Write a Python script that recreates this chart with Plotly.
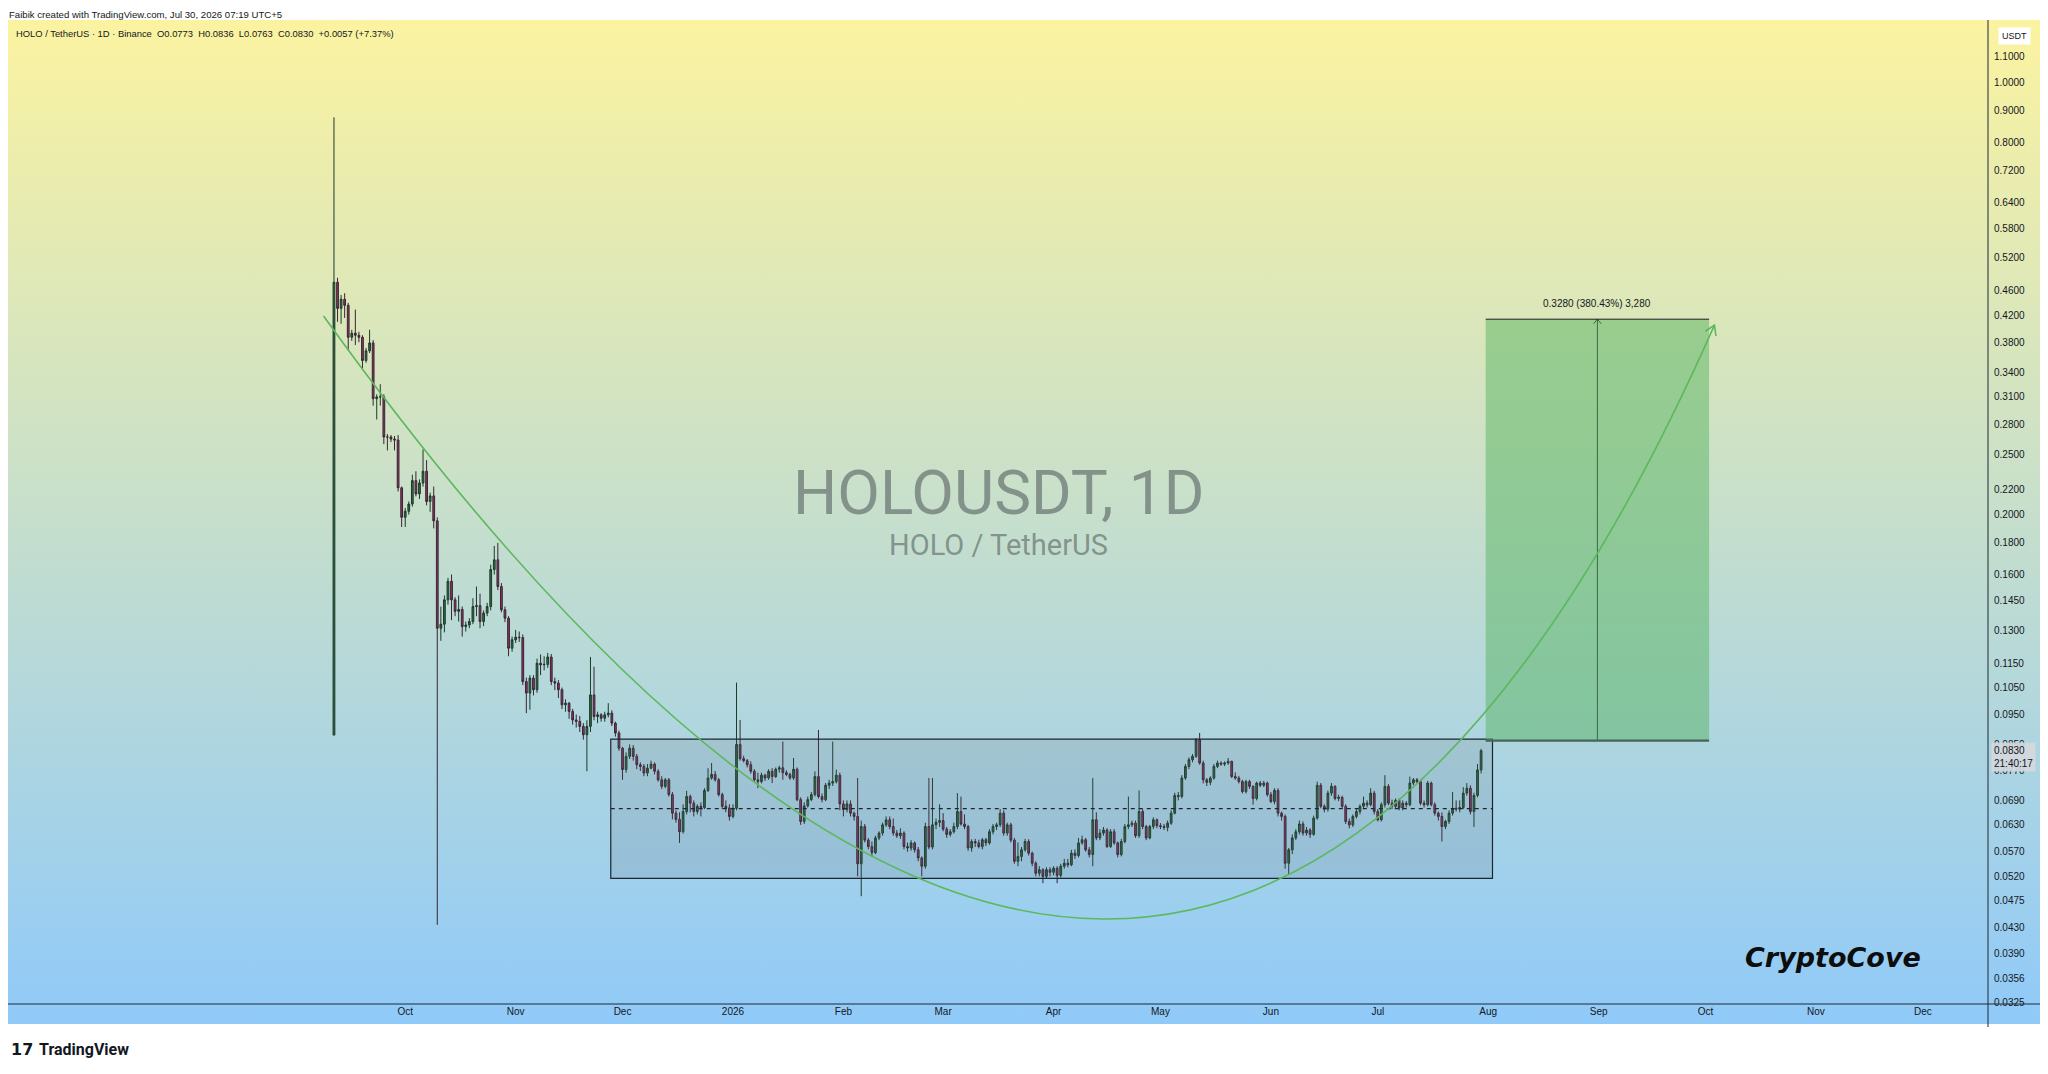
import math
import base64
import pandas as pd
import plotly.graph_objects as go

# ---------------- data ----------------
first_day = "2025-09-11"
opens = [
0.0880,0.4750,0.4310,0.4460,0.4360,0.3870,0.3930,0.3900,0.3870,0.3550,
0.3680,0.3790,0.3080,0.3100,0.3100,0.2670,0.2670,0.2650,0.2640,0.2210,
0.1980,0.2025,0.2080,0.2270,0.2160,0.2250,0.2350,0.2100,0.2144,0.1954,
0.1310,0.1330,0.1456,0.1560,0.1456,0.1395,0.1405,0.1318,0.1326,0.1343,
0.1420,0.1425,0.1343,0.1386,0.1420,0.1630,0.1690,0.1530,0.1403,0.1360,
0.1216,0.1255,0.1267,0.1265,0.1074,0.1029,0.1088,0.1042,0.1150,0.1143,
0.1145,0.1177,0.1074,0.1068,0.1042,0.0985,0.0991,0.0961,0.0931,0.0926,
0.0909,0.0881,0.0909,0.1022,0.0943,0.0949,0.0937,0.0949,0.0955,0.0920,
0.0887,0.0838,0.0774,0.0813,0.0838,0.0813,0.0788,0.0783,0.0764,0.0778,
0.0790,0.0769,0.0745,0.0727,0.0745,0.0705,0.0658,0.0643,0.0614,0.0662,
0.0700,0.0683,0.0662,0.0675,0.0672,0.0716,0.0750,0.0760,0.0745,0.0705,
0.0675,0.0671,0.0650,0.0670,0.0850,0.0806,0.0800,0.0788,0.0769,0.0745,
0.0740,0.0758,0.0750,0.0769,0.0754,0.0775,0.0779,0.0765,0.0760,0.0750,
0.0775,0.0692,0.0638,0.0676,0.0692,0.0705,0.0754,0.0700,0.0692,0.0730,
0.0736,0.0740,0.0758,0.0681,0.0667,0.0681,0.0658,0.0650,0.0545,0.0626,
0.0595,0.0581,0.0568,0.0600,0.0611,0.0630,0.0642,0.0626,0.0611,0.0605,
0.0611,0.0581,0.0578,0.0589,0.0574,0.0557,0.0540,0.0626,0.0580,0.0630,
0.0636,0.0640,0.0620,0.0608,0.0614,0.0626,0.0662,0.0632,0.0626,0.0578,
0.0592,0.0589,0.0581,0.0596,0.0589,0.0614,0.0626,0.0630,0.0658,0.0611,
0.0630,0.0595,0.0550,0.0560,0.0574,0.0592,0.0567,0.0546,0.0526,0.0533,
0.0520,0.0533,0.0528,0.0536,0.0522,0.0540,0.0546,0.0543,0.0567,0.0562,
0.0589,0.0596,0.0574,0.0564,0.0642,0.0600,0.0611,0.0618,0.0581,0.0614,
0.0589,0.0564,0.0592,0.0626,0.0630,0.0634,0.0605,0.0662,0.0626,0.0600,
0.0626,0.0642,0.0628,0.0626,0.0624,0.0634,0.0658,0.0703,0.0700,0.0750,
0.0783,0.0803,0.0813,0.0865,0.0793,0.0745,0.0738,0.0750,0.0783,0.0793,
0.0790,0.0793,0.0798,0.0754,0.0750,0.0740,0.0713,0.0740,0.0727,0.0695,
0.0736,0.0730,0.0736,0.0705,0.0687,0.0716,0.0658,0.0650,0.0546,0.0574,
0.0600,0.0614,0.0632,0.0611,0.0618,0.0608,0.0646,0.0730,0.0675,0.0668,
0.0709,0.0727,0.0695,0.0698,0.0675,0.0638,0.0630,0.0650,0.0662,0.0675,
0.0683,0.0679,0.0709,0.0662,0.0642,0.0679,0.0727,0.0683,0.0675,0.0690,
0.0671,0.0683,0.0679,0.0736,0.0745,0.0740,0.0683,0.0679,0.0736,0.0679,
0.0658,0.0650,0.0626,0.0638,0.0658,0.0670,0.0668,0.0672,0.0709,0.0722,
0.0662,0.0703,0.0773]
highs = [
0.8780,0.4830,0.4530,0.4560,0.4400,0.3980,0.4290,0.3950,0.3900,0.3720,
0.3980,0.3830,0.3130,0.3250,0.3130,0.2700,0.2690,0.2680,0.2690,0.2220,
0.2050,0.2100,0.2320,0.2350,0.2280,0.2550,0.2450,0.2170,0.2220,0.1980,
0.1420,0.1480,0.1580,0.1600,0.1470,0.1480,0.1420,0.1343,0.1360,0.1465,
0.1530,0.1490,0.1400,0.1440,0.1660,0.1780,0.1800,0.1550,0.1420,0.1370,
0.1270,0.1302,0.1294,0.1280,0.1090,0.1100,0.1100,0.1170,0.1188,0.1180,
0.1195,0.1190,0.1090,0.1080,0.1050,0.1005,0.0995,0.0970,0.0950,0.0945,
0.0920,0.0930,0.1177,0.1135,0.0960,0.0955,0.0960,0.0991,0.0965,0.0925,
0.0895,0.0842,0.0825,0.0850,0.0848,0.0820,0.0795,0.0790,0.0790,0.0800,
0.0795,0.0775,0.0755,0.0750,0.0750,0.0712,0.0665,0.0660,0.0680,0.0715,
0.0705,0.0690,0.0680,0.0685,0.0722,0.0778,0.0793,0.0770,0.0750,0.0710,
0.0690,0.0680,0.0680,0.1070,0.0931,0.0815,0.0805,0.0798,0.0775,0.0765,
0.0765,0.0762,0.0775,0.0778,0.0780,0.0785,0.0859,0.0772,0.0765,0.0808,
0.0780,0.0698,0.0685,0.0700,0.0712,0.0769,0.0897,0.0708,0.0736,0.0745,
0.0859,0.0774,0.0765,0.0690,0.0690,0.0690,0.0662,0.0750,0.0640,0.0632,
0.0600,0.0592,0.0605,0.0615,0.0635,0.0650,0.0650,0.0645,0.0618,0.0622,
0.0615,0.0590,0.0595,0.0592,0.0580,0.0560,0.0635,0.0750,0.0750,0.0645,
0.0680,0.0658,0.0625,0.0620,0.0635,0.0709,0.0700,0.0655,0.0630,0.0597,
0.0598,0.0596,0.0600,0.0600,0.0620,0.0632,0.0635,0.0668,0.0665,0.0635,
0.0635,0.0600,0.0590,0.0580,0.0598,0.0597,0.0570,0.0550,0.0540,0.0536,
0.0538,0.0538,0.0540,0.0540,0.0545,0.0555,0.0555,0.0574,0.0575,0.0600,
0.0605,0.0600,0.0580,0.0750,0.0660,0.0620,0.0625,0.0622,0.0620,0.0620,
0.0592,0.0598,0.0632,0.0700,0.0640,0.0640,0.0716,0.0668,0.0630,0.0630,
0.0648,0.0645,0.0634,0.0632,0.0640,0.0665,0.0710,0.0712,0.0758,0.0790,
0.0810,0.0820,0.0870,0.0887,0.0800,0.0750,0.0755,0.0790,0.0800,0.0798,
0.0798,0.0808,0.0800,0.0766,0.0756,0.0745,0.0745,0.0745,0.0730,0.0740,
0.0742,0.0742,0.0740,0.0712,0.0722,0.0722,0.0662,0.0655,0.0578,0.0608,
0.0620,0.0640,0.0638,0.0625,0.0622,0.0652,0.0740,0.0736,0.0680,0.0716,
0.0736,0.0730,0.0705,0.0702,0.0680,0.0645,0.0655,0.0668,0.0680,0.0700,
0.0690,0.0722,0.0715,0.0668,0.0685,0.0758,0.0733,0.0692,0.0695,0.0695,
0.0690,0.0688,0.0754,0.0750,0.0750,0.0745,0.0690,0.0742,0.0740,0.0685,
0.0662,0.0660,0.0642,0.0665,0.0712,0.0690,0.0690,0.0725,0.0736,0.0730,
0.0710,0.0790,0.0836]
lows = [
0.0880,0.4100,0.4070,0.4160,0.3680,0.3820,0.3760,0.3800,0.3450,0.3520,
0.3650,0.3000,0.2850,0.3000,0.2600,0.2540,0.2620,0.2540,0.2180,0.1910,
0.1910,0.2000,0.2060,0.2140,0.2120,0.2220,0.2070,0.2020,0.1900,0.0434,
0.1250,0.1290,0.1430,0.1350,0.1370,0.1343,0.1270,0.1294,0.1310,0.1330,
0.1370,0.1310,0.1320,0.1370,0.1400,0.1600,0.1510,0.1390,0.1340,0.1180,
0.1200,0.1240,0.1245,0.1060,0.0955,0.0967,0.1020,0.1030,0.1100,0.1120,
0.1130,0.1060,0.1040,0.1010,0.0970,0.0960,0.0935,0.0915,0.0905,0.0890,
0.0865,0.0769,0.0890,0.0930,0.0920,0.0925,0.0925,0.0940,0.0910,0.0875,
0.0830,0.0745,0.0765,0.0805,0.0800,0.0775,0.0770,0.0755,0.0755,0.0775,
0.0760,0.0740,0.0720,0.0722,0.0700,0.0643,0.0635,0.0589,0.0610,0.0655,
0.0660,0.0650,0.0655,0.0650,0.0668,0.0712,0.0745,0.0740,0.0700,0.0668,
0.0660,0.0640,0.0645,0.0665,0.0800,0.0795,0.0780,0.0762,0.0740,0.0722,
0.0735,0.0742,0.0745,0.0736,0.0750,0.0765,0.0745,0.0755,0.0745,0.0745,
0.0688,0.0630,0.0632,0.0672,0.0688,0.0700,0.0695,0.0685,0.0688,0.0720,
0.0728,0.0735,0.0665,0.0650,0.0660,0.0650,0.0640,0.0520,0.0483,0.0590,
0.0575,0.0560,0.0565,0.0595,0.0605,0.0625,0.0620,0.0605,0.0600,0.0598,
0.0575,0.0570,0.0572,0.0568,0.0550,0.0520,0.0535,0.0575,0.0575,0.0620,
0.0625,0.0615,0.0600,0.0603,0.0610,0.0620,0.0628,0.0620,0.0572,0.0570,
0.0580,0.0577,0.0575,0.0582,0.0585,0.0608,0.0618,0.0625,0.0605,0.0605,
0.0590,0.0545,0.0540,0.0550,0.0570,0.0562,0.0540,0.0520,0.0520,0.0507,
0.0515,0.0520,0.0522,0.0507,0.0518,0.0535,0.0538,0.0540,0.0555,0.0558,
0.0585,0.0570,0.0558,0.0540,0.0595,0.0595,0.0605,0.0578,0.0578,0.0585,
0.0558,0.0560,0.0588,0.0620,0.0625,0.0600,0.0600,0.0620,0.0595,0.0597,
0.0620,0.0622,0.0620,0.0618,0.0615,0.0630,0.0655,0.0690,0.0695,0.0745,
0.0775,0.0795,0.0808,0.0788,0.0735,0.0728,0.0730,0.0745,0.0778,0.0785,
0.0784,0.0788,0.0750,0.0745,0.0735,0.0708,0.0708,0.0720,0.0679,0.0690,
0.0725,0.0725,0.0700,0.0683,0.0680,0.0650,0.0640,0.0535,0.0523,0.0565,
0.0595,0.0608,0.0605,0.0605,0.0600,0.0605,0.0642,0.0670,0.0660,0.0662,
0.0702,0.0690,0.0688,0.0670,0.0632,0.0622,0.0625,0.0645,0.0655,0.0670,
0.0672,0.0675,0.0655,0.0638,0.0638,0.0672,0.0678,0.0668,0.0670,0.0665,
0.0665,0.0672,0.0675,0.0730,0.0735,0.0678,0.0672,0.0675,0.0675,0.0652,
0.0640,0.0592,0.0620,0.0632,0.0652,0.0662,0.0660,0.0668,0.0702,0.0655,
0.0625,0.0698,0.0763]
closes = [
0.4750,0.4310,0.4460,0.4360,0.3870,0.3930,0.3900,0.3870,0.3550,0.3680,
0.3790,0.3080,0.3100,0.3100,0.2670,0.2670,0.2650,0.2640,0.2210,0.1980,
0.2025,0.2080,0.2270,0.2160,0.2250,0.2350,0.2100,0.2144,0.1954,0.1310,
0.1330,0.1456,0.1560,0.1456,0.1395,0.1405,0.1318,0.1326,0.1343,0.1420,
0.1425,0.1343,0.1386,0.1420,0.1630,0.1690,0.1530,0.1403,0.1360,0.1216,
0.1255,0.1267,0.1265,0.1074,0.1029,0.1088,0.1042,0.1150,0.1143,0.1145,
0.1177,0.1074,0.1068,0.1042,0.0985,0.0991,0.0961,0.0931,0.0926,0.0909,
0.0881,0.0909,0.1022,0.0943,0.0949,0.0937,0.0949,0.0955,0.0920,0.0887,
0.0838,0.0774,0.0813,0.0838,0.0813,0.0788,0.0783,0.0764,0.0778,0.0790,
0.0769,0.0745,0.0727,0.0745,0.0705,0.0658,0.0643,0.0614,0.0662,0.0700,
0.0683,0.0662,0.0675,0.0672,0.0716,0.0750,0.0760,0.0745,0.0705,0.0675,
0.0671,0.0650,0.0670,0.0850,0.0806,0.0800,0.0788,0.0769,0.0745,0.0740,
0.0758,0.0750,0.0769,0.0754,0.0775,0.0779,0.0765,0.0760,0.0750,0.0775,
0.0692,0.0638,0.0676,0.0692,0.0705,0.0754,0.0700,0.0692,0.0730,0.0736,
0.0740,0.0758,0.0681,0.0667,0.0681,0.0658,0.0650,0.0545,0.0626,0.0595,
0.0581,0.0568,0.0600,0.0611,0.0630,0.0642,0.0626,0.0611,0.0605,0.0611,
0.0581,0.0578,0.0589,0.0574,0.0557,0.0540,0.0626,0.0580,0.0630,0.0636,
0.0640,0.0620,0.0608,0.0614,0.0626,0.0662,0.0632,0.0626,0.0578,0.0592,
0.0589,0.0581,0.0596,0.0589,0.0614,0.0626,0.0630,0.0658,0.0611,0.0630,
0.0595,0.0550,0.0560,0.0574,0.0592,0.0567,0.0546,0.0526,0.0533,0.0520,
0.0533,0.0528,0.0536,0.0522,0.0540,0.0546,0.0543,0.0567,0.0562,0.0589,
0.0596,0.0574,0.0564,0.0642,0.0600,0.0611,0.0618,0.0581,0.0614,0.0589,
0.0564,0.0592,0.0626,0.0630,0.0634,0.0605,0.0662,0.0626,0.0600,0.0626,
0.0642,0.0628,0.0626,0.0624,0.0634,0.0658,0.0703,0.0700,0.0750,0.0783,
0.0803,0.0813,0.0865,0.0793,0.0745,0.0738,0.0750,0.0783,0.0793,0.0790,
0.0793,0.0798,0.0754,0.0750,0.0740,0.0713,0.0740,0.0727,0.0695,0.0736,
0.0730,0.0736,0.0705,0.0687,0.0716,0.0658,0.0650,0.0546,0.0574,0.0600,
0.0614,0.0632,0.0611,0.0618,0.0608,0.0646,0.0730,0.0675,0.0668,0.0709,
0.0727,0.0695,0.0698,0.0675,0.0638,0.0630,0.0650,0.0662,0.0675,0.0683,
0.0679,0.0709,0.0662,0.0642,0.0679,0.0727,0.0683,0.0675,0.0690,0.0671,
0.0683,0.0679,0.0736,0.0745,0.0740,0.0683,0.0679,0.0736,0.0679,0.0658,
0.0650,0.0626,0.0638,0.0658,0.0670,0.0668,0.0672,0.0709,0.0722,0.0662,
0.0703,0.0773,0.0830]

month_ticks = ["2025-10-01", "2025-11-01", "2025-12-01", "2026-01-01", "2026-02-01",
               "2026-03-01", "2026-04-01", "2026-05-01", "2026-06-01", "2026-07-01",
               "2026-08-01", "2026-09-01", "2026-10-01", "2026-11-01", "2026-12-01"]
month_labels = ["Oct", "Nov", "Dec", "2026", "Feb", "Mar", "Apr", "May", "Jun", "Jul",
                "Aug", "Sep", "Oct", "Nov", "Dec"]
price_ticks = [1.1, 1.0, 0.9, 0.8, 0.72, 0.64, 0.58, 0.52, 0.46, 0.42, 0.38, 0.34, 0.31,
               0.28, 0.25, 0.22, 0.20, 0.18, 0.16, 0.145, 0.13, 0.115, 0.105, 0.095, 0.085,
               0.077, 0.069, 0.063, 0.057, 0.052, 0.0475, 0.043, 0.039, 0.0356, 0.0325]

# drawings (anchor points)
range_box = dict(start="2025-11-27 16:48", end="2026-08-02 04:48", top=0.0867, bottom=0.0516, mid=0.0669)
target = dict(start="2026-07-31 07:00", end="2026-10-02 00:00", mid="2026-08-31 15:36",
              low=0.0862, high=0.4140, label="0.3280 (380.43%) 3,280")
curve_pts = [("2025-09-08 01:40", 0.419), ("2026-05-08 13:12", 0.00478), ("2026-10-03 12:00", 0.405)]

header1 = "Faibik created with TradingView.com, Jul 30, 2026 07:19 UTC+5"
header2 = ("HOLO / TetherUS · 1D · Binance&nbsp;&nbsp;O0.0773&nbsp;&nbsp;H0.0836&nbsp;&nbsp;"
           "L0.0763&nbsp;&nbsp;C0.0830&nbsp;&nbsp;+0.0057 (+7.37%)")
last_price_label = "0.0830<br>21:40:17"

# ---------------- layout geometry ----------------
# page coordinates are used below; the html body adds an 8px margin, so the
# figure itself starts 8px right/down of the page corner.
PAGE_W, PAGE_H, OFF = 2048, 1074, 8
W, H = PAGE_W - OFF, PAGE_H - 2 * OFF
PLOT_L, PLOT_R, PLOT_T, PLOT_B = 8, 1988, 22, 1004          # page px
ML, MT = PLOT_L - OFF, PLOT_T - OFF
MR, MB = W - (PLOT_R - OFF), H - (PLOT_B - OFF)
PW, PH = PLOT_R - PLOT_L, PLOT_B - PLOT_T
x_range = ["2025-06-11 12:00", "2026-12-19 07:00"]
y_lo, y_hi = 0.03233, 1.252


def pxp(X):
    return (X - PLOT_L) / PW


def pyp(Y):
    return (PLOT_B - Y) / PH


x0_ts, x1_ts = pd.Timestamp(x_range[0]), pd.Timestamp(x_range[1])
ppd = PW / ((x1_ts - x0_ts).total_seconds() / 86400)
ppdec = PH / (math.log10(y_hi) - math.log10(y_lo))


def to_px(t, p):
    return ((pd.Timestamp(t) - x0_ts).total_seconds() / 86400 * ppd, -math.log10(p) * ppdec)


def from_px(px, py):
    return x0_ts + pd.Timedelta(days=px / ppd), 10 ** (-py / ppdec)


def chevron(tip, frm, size, ang=32):
    tx, ty = to_px(*tip)
    fx, fy = to_px(*frm)
    dx, dy = fx - tx, fy - ty
    n = math.hypot(dx, dy)
    dx, dy = dx / n, dy / n
    out = []
    for s in (1, -1):
        a = math.radians(ang * s)
        wx = dx * math.cos(a) - dy * math.sin(a)
        wy = dx * math.sin(a) + dy * math.cos(a)
        out.append(from_px(tx + size * wx, ty + size * wy))
    return [out[0][0], pd.Timestamp(tip[0]), out[1][0]], [out[0][1], tip[1], out[1][1]]


dates = pd.date_range(first_day, periods=len(closes), freq="D")

fig = go.Figure()
fig.add_trace(go.Candlestick(
    x=dates, open=opens, high=highs, low=lows, close=closes,
    increasing=dict(line=dict(color="#1d3a2a", width=1), fillcolor="#2f6a45"),
    decreasing=dict(line=dict(color="#3a2533", width=1), fillcolor="#8e3562"),
    whiskerwidth=0, showlegend=False, hoverinfo="skip"))

# curve arrowhead
cx, cy = chevron(curve_pts[2], curve_pts[1], 11)
fig.add_trace(go.Scatter(x=cx, y=cy, mode="lines", line=dict(color="#5cb85c", width=1.6),
                         showlegend=False, hoverinfo="skip"))
# target vertical arrow
fig.add_trace(go.Scatter(x=[target["mid"], target["mid"]], y=[target["low"], target["high"]],
                         mode="lines", line=dict(color="#1b1f24", width=1),
                         showlegend=False, hoverinfo="skip"))
ax_, ay_ = chevron((target["mid"], target["high"]), (target["mid"], target["low"]), 6, 40)
fig.add_trace(go.Scatter(x=ax_, y=ay_, mode="lines", line=dict(color="#1b1f24", width=1),
                         showlegend=False, hoverinfo="skip"))

# gradient background
svg = ('<svg xmlns="http://www.w3.org/2000/svg" width="200" height="200" viewBox="0 0 200 200" '
       'preserveAspectRatio="none"><defs><linearGradient id="g" x1="0" y1="0" x2="0" y2="1">'
       '<stop offset="0" stop-color="#fbf3a0"/><stop offset="1" stop-color="#90caf9"/>'
       '</linearGradient></defs><rect width="200" height="200" fill="url(#g)"/></svg>')
bg_src = "data:image/svg+xml;base64," + base64.b64encode(svg.encode()).decode()


def pth(t):
    return str(pd.Timestamp(t)).replace(" ", "_")


shapes = [
    dict(type="rect", xref="x", yref="y", x0=range_box["start"], x1=range_box["end"],
         y0=range_box["bottom"], y1=range_box["top"], fillcolor="rgba(95,100,115,0.15)",
         line=dict(color="#1c2630", width=1.2), layer="above"),
    dict(type="line", xref="x", yref="y", x0=range_box["start"], x1=range_box["end"],
         y0=range_box["mid"], y1=range_box["mid"], line=dict(color="#1c2630", width=1.2, dash="4px,4px"),
         layer="above"),
    dict(type="rect", xref="x", yref="y", x0=target["start"], x1=target["end"],
         y0=target["low"], y1=target["high"], fillcolor="rgba(88,180,98,0.5)",
         line=dict(width=0), layer="above"),
    dict(type="line", xref="x", yref="y", x0=target["start"], x1=target["end"],
         y0=target["high"], y1=target["high"], line=dict(color="#1b1f24", width=1), layer="above"),
    dict(type="line", xref="x", yref="y", x0=target["start"], x1=target["end"],
         y0=target["low"], y1=target["low"], line=dict(color="#45665a", width=2.2), layer="above"),
    dict(type="path", xref="x", yref="y",
         path=f"M {pth(curve_pts[0][0])},{curve_pts[0][1]} Q {pth(curve_pts[1][0])},{curve_pts[1][1]} "
              f"{pth(curve_pts[2][0])},{curve_pts[2][1]}",
         line=dict(color="#5cb85c", width=1.6), fillcolor="rgba(0,0,0,0)", layer="above"),
    dict(type="line", xref="paper", yref="paper", x0=pxp(8), x1=pxp(2048), y0=0, y1=0,
         line=dict(color="#1e2833", width=1)),
    dict(type="line", xref="paper", yref="paper", x0=1, x1=1, y0=pyp(1027), y1=pyp(20),
         line=dict(color="#1e2833", width=1)),
]

annotations = [
    dict(xref="paper", yref="paper", x=pxp(8), y=pyp(8.5), xanchor="left", yanchor="top",
         text=header1, showarrow=False, borderpad=0,
         font=dict(family="Liberation Sans", size=9.6, color="#131722")),
    dict(xref="paper", yref="paper", x=pxp(14), y=pyp(33), xanchor="left", yanchor="middle",
         text=header2, showarrow=False, font=dict(family="Liberation Sans", size=9.4, color="#131722")),
    dict(xref="paper", yref="paper", x=pxp(998), y=pyp(492), xanchor="center", yanchor="middle",
         text="HOLOUSDT, 1D", showarrow=False,
         font=dict(family="Roboto", size=62, color="rgba(88,98,98,0.62)")),
    dict(xref="paper", yref="paper", x=pxp(998), y=pyp(545), xanchor="center", yanchor="middle",
         text="HOLO / TetherUS", showarrow=False,
         font=dict(family="Roboto", size=29, color="rgba(88,98,98,0.62)")),
    dict(xref="paper", yref="paper", x=pxp(1833), y=pyp(957), xanchor="center", yanchor="middle",
         text="CryptoCove", showarrow=False,
         font=dict(family="DejaVu Sans", size=27, color="#0d0d0d", weight="bold", style="italic")),
    dict(xref="x", yref="y", x=target["mid"], y=math.log10(target["high"]), xanchor="center",
         yanchor="bottom", yshift=8, text=target["label"], showarrow=False,
         font=dict(family="Liberation Sans", size=10, color="#131722")),
    dict(xref="paper", yref="paper", x=pxp(2014), y=pyp(36), xanchor="center", yanchor="middle",
         text="USDT", showarrow=False, bgcolor="#ffffff", borderpad=3,
         font=dict(family="Liberation Sans", size=9, color="#131722")),
    dict(xref="paper", yref="paper", x=pxp(1991), y=pyp(757), xanchor="left", yanchor="middle",
         text=last_price_label, showarrow=False, bgcolor="rgba(212,216,221,0.92)", borderpad=2,
         align="left", font=dict(family="Liberation Sans", size=10, color="#131722")),
    dict(xref="paper", yref="paper", x=pxp(9), y=pyp(1049), xanchor="left", yanchor="middle",
         text="<b>17</b>", showarrow=False,
         font=dict(family="DejaVu Sans", size=16, color="#131722")),
    dict(xref="paper", yref="paper", x=pxp(37), y=pyp(1049), xanchor="left", yanchor="middle",
         text="<b>TradingView</b>", showarrow=False,
         font=dict(family="Roboto", size=16, color="#131722")),
]

fig.update_layout(
    width=W, height=H, autosize=False,
    margin=dict(l=ML, r=MR, t=MT, b=MB, pad=0),
    paper_bgcolor="#ffffff", plot_bgcolor="rgba(0,0,0,0)",
    showlegend=False, hovermode=False,
    images=[dict(source=bg_src, xref="paper", yref="paper", x=pxp(8), y=pyp(20),
                 sizex=pxp(2040) - pxp(8), sizey=pyp(20) - pyp(1024),
                 xanchor="left", yanchor="top", sizing="stretch", layer="below")],
    shapes=shapes, annotations=annotations,
    xaxis=dict(type="date", range=x_range, tickvals=month_ticks, ticktext=month_labels,
               showgrid=False, zeroline=False, showline=False, ticks="",
               tickfont=dict(family="Liberation Sans", size=10, color="#131722"),
               rangeslider=dict(visible=False), automargin=False, fixedrange=True),
    yaxis=dict(type="log", range=[math.log10(y_lo), math.log10(y_hi)], side="right",
               tickvals=price_ticks, ticktext=[f"{v:.4f}" for v in price_ticks],
               showgrid=False, zeroline=False, showline=False, ticks="", ticklabelstandoff=5,
               tickfont=dict(family="Liberation Sans", size=10, color="#131722"),
               automargin=False, fixedrange=True),
)

fig.write_html("out.html")
